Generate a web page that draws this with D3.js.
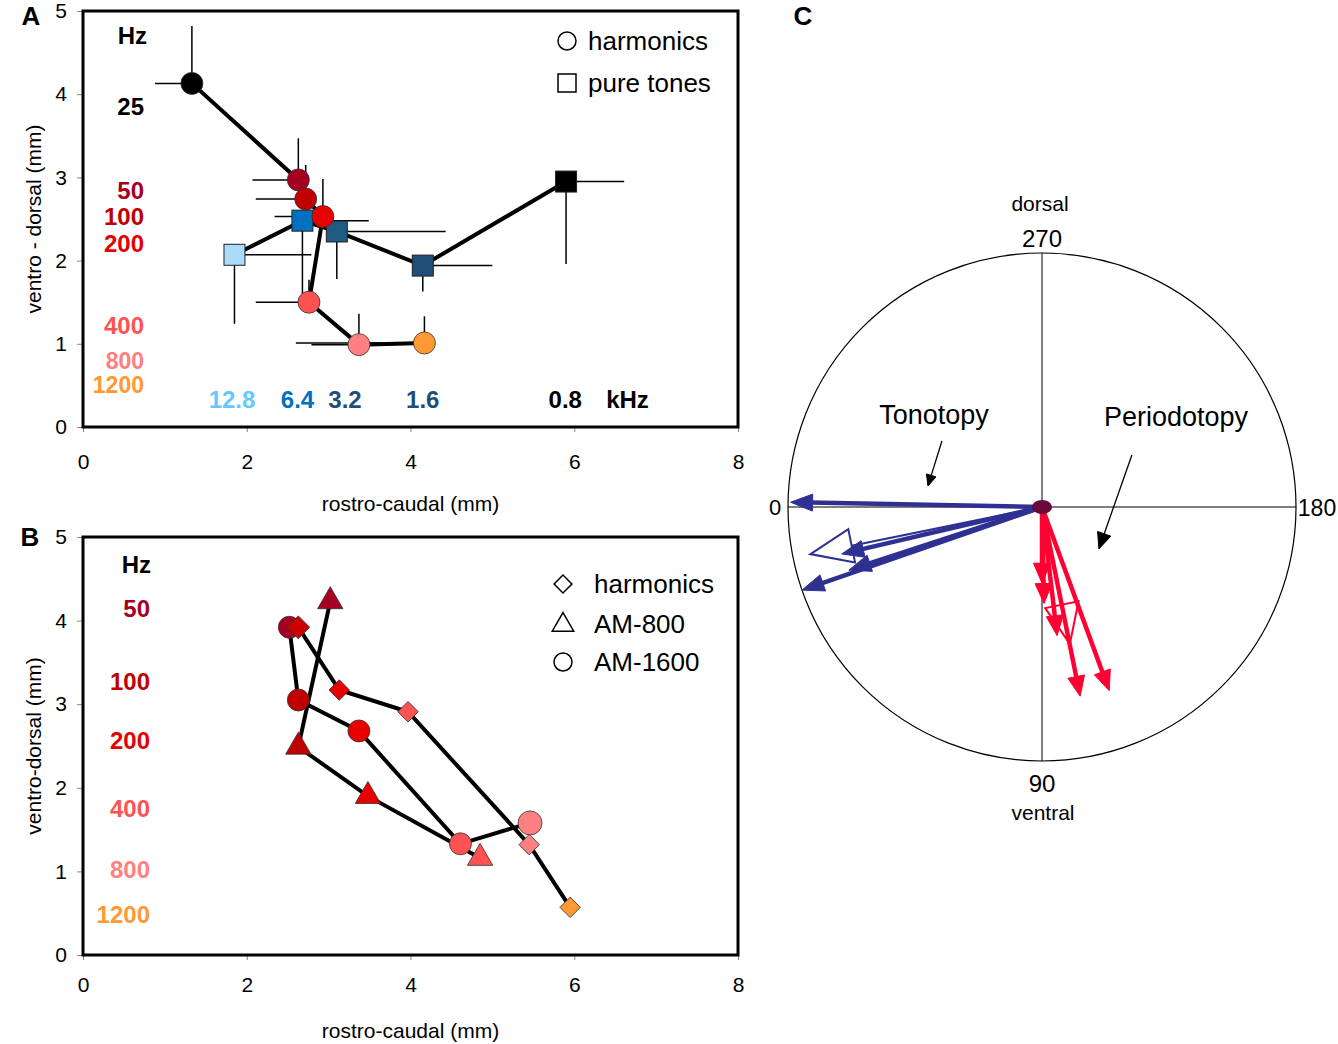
<!DOCTYPE html>
<html>
<head>
<meta charset="utf-8">
<script src="https://cdn.jsdelivr.net/npm/d3@7"></script>
<style>
  body { margin: 0; background: #fff; }
  svg { font-family: "Liberation Sans", Arial, sans-serif; }
</style>
</head>
<body>
<svg id="fig" width="1338" height="1044"></svg>
<script>
"use strict"

// ---- panel A : harmonics (circles) ----
const harmHz = ["25", "50", "100", "200", "400", "800", "1200"]
const harmColor = ["#000000", "#a50021", "#c00000", "#e60000", "#ff5252", "#ff8080", "#ff9933"]
const harmX = [1.33, 2.63, 2.72, 2.93, 2.76, 3.37, 4.17]
const harmY = [4.13, 2.97, 2.74, 2.53, 1.50, 0.99, 1.01]
const harmErrX = [-0.45, -0.56, -0.61, -0.59, -0.65, -0.58, -1.57]
const harmErrY = [0.69, 0.50, 0.41, 0.45, 0.27, 0.37, 0.32]
const harmLabelY = [3.85, 2.84, 2.53, 2.21, 1.22, 0.79, 0.50]

// ---- panel A : pure tones (squares) ----
const toneKHz = ["12.8", "6.4", "3.2", "1.6", "0.8"]
const toneColor = ["#a9dcf8", "#0070c0", "#215a82", "#1f4e79", "#000000"]
const toneTextColor = ["#66c8ff", "#0070c0", "#1f4e79", "#1f4e79", "#000000"]
const toneX = [1.85, 2.68, 3.10, 4.15, 5.90]
const toneY = [2.07, 2.48, 2.35, 1.94, 2.95]
const toneErrX = [0.94, 0.81, 1.33, 0.85, 0.71]
const toneErrY = [-0.83, -0.88, -0.57, -0.31, -0.99]
const toneLabelX = [1.82, 2.62, 3.20, 4.15, 5.89]

// ---- panel B ----
const bHz = ["50", "100", "200", "400", "800", "1200"]
const bHzColor = ["#a50021", "#c00000", "#e60000", "#ff5252", "#ff8080", "#ff9933"]
const bHzLabelY = [4.15, 3.27, 2.56, 1.75, 1.02, 0.49]

const diamondX = [2.63, 3.13, 3.97, 5.45, 5.95]
const diamondY = [3.92, 3.17, 2.91, 1.32, 0.57]
const diamondColor = ["#cc0000", "#e60000", "#ff5252", "#ff8080", "#ff9933"]

const triX = [3.02, 2.63, 3.48, 4.85]
const triY = [4.23, 2.49, 1.90, 1.16]
const triColor = ["#a50021", "#c00000", "#e60000", "#ff5252"]

const amCircX = [2.52, 2.63, 3.37, 4.61, 5.46]
const amCircY = [3.92, 3.05, 2.68, 1.33, 1.58]
const amCircColor = ["#a50021", "#c00000", "#e60000", "#ff5252", "#ff8080"]

// ---- panel C : gradient directions (deg: 0 rostral/left, 90 ventral) ----
const tonoAngle = [358.9, 11.5, 13.2, 18.1, 19.1]
const tonoLen = [0.99, 0.93, 0.81, 0.80, 1.00]
const tonoOpen = [false, true, false, false, false]
const perioAngle = [91.2, 90.0, 96.7, 101.5, 101.4, 110.1]
const perioLen = [0.38, 0.30, 0.51, 0.55, 0.76, 0.77]
const perioOpen = [false, false, false, true, false, false]

const svg = d3.select("#fig")

const x = d3.scaleLinear().domain([0, 8]).range([83, 738])
const yA = d3.scaleLinear().domain([0, 5]).range([427, 11])
const yB = d3.scaleLinear().domain([0, 5]).range([955, 537])

function frame(y, xpad) {
    let g = svg.append("g")
    g.append("g").attr("transform", `translate(${x(0)},0)`)
        .call(d3.axisLeft(y).ticks(5).tickSize(6).tickPadding(10))
        .call(a => a.select(".domain").remove())
        .call(a => a.selectAll("line").attr("stroke", "#888"))
        .call(a => a.selectAll("text").attr("font-size", 21).attr("fill", "#000"))
    g.append("g").attr("transform", `translate(0,${y(0)})`)
        .call(d3.axisBottom(x).ticks(4).tickSize(5).tickPadding(xpad))
        .call(a => a.select(".domain").remove())
        .call(a => a.selectAll("line").attr("stroke", "#888"))
        .call(a => a.selectAll("text").attr("font-size", 21).attr("fill", "#000"))
    g.append("rect")
        .attr("x", x(0)).attr("y", y(5))
        .attr("width", x(8) - x(0)).attr("height", y(0) - y(5))
        .attr("fill", "none").attr("stroke", "#000").attr("stroke-width", 3)
    return g
}

const line = (xs, ys, y) => d3.line()(xs.map((v, i) => [x(v), y(ys[i])]))

// ================= A =================
let gA = frame(yA, 22)
let eb = svg.append("g").attr("stroke", "#000").attr("stroke-width", 1.5)
function errorBars(xs, ys, ex, ey) {
    xs.forEach((v, i) => {
        eb.append("line").attr("x1", x(v)).attr("x2", x(v + ex[i]))
            .attr("y1", yA(ys[i])).attr("y2", yA(ys[i]))
        eb.append("line").attr("x1", x(v)).attr("x2", x(v))
            .attr("y1", yA(ys[i])).attr("y2", yA(ys[i] + ey[i]))
    })
}
errorBars(harmX, harmY, harmErrX, harmErrY)
errorBars(toneX, toneY, toneErrX, toneErrY)

svg.append("path").attr("d", line(harmX, harmY, yA))
    .attr("fill", "none").attr("stroke", "#000").attr("stroke-width", 4)
svg.append("path").attr("d", line(toneX, toneY, yA))
    .attr("fill", "none").attr("stroke", "#000").attr("stroke-width", 4)

svg.append("g").selectAll("rect").data(toneX).join("rect")
    .attr("x", d => x(d) - 10.5).attr("y", (d, i) => yA(toneY[i]) - 10.5)
    .attr("width", 21).attr("height", 21)
    .attr("fill", (d, i) => toneColor[i]).attr("stroke", "#222").attr("stroke-width", 1)
svg.append("g").selectAll("circle").data(harmX).join("circle")
    .attr("cx", d => x(d)).attr("cy", (d, i) => yA(harmY[i])).attr("r", 11)
    .attr("fill", (d, i) => harmColor[i]).attr("stroke", "#333").attr("stroke-width", 0.8)

// Hz labels
let labA = svg.append("g").attr("font-weight", "bold").attr("font-size", 24)
    .attr("text-anchor", "end").attr("dominant-baseline", "central")
labA.append("text").attr("x", 147).attr("y", yA(4.71)).text("Hz")
labA.selectAll(".hz").data(harmHz).join("text").attr("class", "hz")
    .attr("x", 144).attr("y", (d, i) => yA(harmLabelY[i]))
    .attr("font-size", (d, i) => i >= 5 ? 23 : 24)
    .attr("fill", (d, i) => harmColor[i]).text(d => d)
let labK = svg.append("g").attr("font-weight", "bold").attr("font-size", 24)
    .attr("text-anchor", "middle").attr("dominant-baseline", "central")
labK.selectAll("text").data(toneKHz).join("text")
    .attr("x", (d, i) => x(toneLabelX[i])).attr("y", yA(0.33))
    .attr("fill", (d, i) => toneTextColor[i]).text(d => d)
labK.append("text").attr("x", x(6.65)).attr("y", yA(0.33)).text("kHz")

// legend A
let legA = svg.append("g").attr("font-size", 26).attr("dominant-baseline", "central")
legA.append("circle").attr("cx", 567).attr("cy", 41).attr("r", 9)
    .attr("fill", "none").attr("stroke", "#000").attr("stroke-width", 1.5)
legA.append("text").attr("x", 588).attr("y", 41).text("harmonics")
legA.append("rect").attr("x", 558).attr("y", 74).attr("width", 18).attr("height", 18)
    .attr("fill", "none").attr("stroke", "#000").attr("stroke-width", 1.5)
legA.append("text").attr("x", 588).attr("y", 83).text("pure tones")

// ================= B =================
let gB = frame(yB, 17)
const lineB = (xs, ys) => svg.append("path").attr("d", line(xs, ys, yB))
    .attr("fill", "none").attr("stroke", "#000").attr("stroke-width", 4)
lineB(amCircX, amCircY)
lineB(triX, triY)
lineB(diamondX, diamondY)

svg.append("g").selectAll("circle").data(amCircX).join("circle")
    .attr("cx", d => x(d)).attr("cy", (d, i) => yB(amCircY[i])).attr("r", (d, i) => i == 4 ? 12 : 11)
    .attr("fill", (d, i) => amCircColor[i]).attr("stroke", "#333").attr("stroke-width", 0.8)
svg.append("g").selectAll("path").data(triX).join("path")
    .attr("d", d3.symbol(d3.symbolTriangle, 280))
    .attr("transform", (d, i) => `translate(${x(d)},${yB(triY[i])})`)
    .attr("fill", (d, i) => triColor[i]).attr("stroke", "#333").attr("stroke-width", 0.8)
svg.append("g").selectAll("path").data(diamondX).join("path")
    .attr("d", (d, i) => d3.symbol(d3.symbolSquare, i == 0 ? 260 : 210)())
    .attr("transform", (d, i) => `translate(${x(d)},${yB(diamondY[i])}) rotate(45)`)
    .attr("fill", (d, i) => diamondColor[i]).attr("stroke", "#333").attr("stroke-width", 0.8)

let labB = svg.append("g").attr("font-weight", "bold").attr("font-size", 24)
    .attr("text-anchor", "end").attr("dominant-baseline", "central")
labB.append("text").attr("x", 151).attr("y", yB(4.67)).text("Hz")
labB.selectAll(".hz").data(bHz).join("text").attr("class", "hz")
    .attr("x", 150).attr("y", (d, i) => yB(bHzLabelY[i]))
    .attr("fill", (d, i) => bHzColor[i]).text(d => d)

let legB = svg.append("g").attr("font-size", 26).attr("dominant-baseline", "central")
    .attr("fill", "none").attr("stroke-width", 1.5)
legB.append("path").attr("d", d3.symbol(d3.symbolSquare, 160)())
    .attr("transform", "translate(563,584) rotate(45)").attr("stroke", "#000")
legB.append("path").attr("d", d3.symbol(d3.symbolTriangle, 200)())
    .attr("transform", "translate(563,625)").attr("stroke", "#000")
legB.append("circle").attr("cx", 563).attr("cy", 662).attr("r", 9).attr("stroke", "#000")
legB.selectAll("text").data(["harmonics", "AM-800", "AM-1600"]).join("text")
    .attr("x", 594).attr("y", (d, i) => [584, 624, 662][i]).attr("fill", "#000").text(d => d)

// axis titles
let titles = svg.append("g").attr("font-size", 21).attr("text-anchor", "middle")
    .attr("dominant-baseline", "central")
titles.append("text").attr("x", x(4)).attr("y", 503).text("rostro-caudal (mm)")
titles.append("text").attr("x", x(4)).attr("y", 1030).text("rostro-caudal (mm)")
titles.append("text").attr("transform", `translate(33,${yA(2.5)}) rotate(-90)`).text("ventro - dorsal (mm)")
titles.append("text").attr("transform", `translate(33,${yB(2.5)}) rotate(-90)`).text("ventro-dorsal (mm)")

let letters = svg.append("g").attr("font-size", 26).attr("font-weight", "bold")
    .attr("text-anchor", "middle").attr("dominant-baseline", "central")
letters.append("text").attr("x", 31).attr("y", 16).text("A")
letters.append("text").attr("x", 30).attr("y", 537).text("B")
letters.append("text").attr("x", 803).attr("y", 16).text("C")

// ================= C =================
const cx = 1042, cy = 507
const r = d3.scaleLinear().domain([0, 1]).range([0, 254])
const pt = (deg, len) => {
    let a = deg * Math.PI / 180
    return [cx - r(len) * Math.cos(a), cy + r(len) * Math.sin(a)]
}
let gC = svg.append("g")
gC.append("circle").attr("cx", cx).attr("cy", cy).attr("r", r(1))
    .attr("fill", "none").attr("stroke", "#000").attr("stroke-width", 1.2)
gC.append("line").attr("x1", cx - r(1)).attr("x2", cx + r(1)).attr("y1", cy).attr("y2", cy)
    .attr("stroke", "#000").attr("stroke-width", 1)
gC.append("line").attr("x1", cx).attr("x2", cx).attr("y1", cy - r(1)).attr("y2", cy + r(1))
    .attr("stroke", "#000").attr("stroke-width", 1)

let cText = gC.append("g").attr("text-anchor", "middle").attr("dominant-baseline", "central")
cText.append("text").attr("x", cx - 2).attr("y", 203).attr("font-size", 21).text("dorsal")
cText.append("text").attr("x", cx).attr("y", 238).attr("font-size", 24).text("270")
cText.append("text").attr("x", 775).attr("y", 507).attr("font-size", 22).text("0")
cText.append("text").attr("x", 1317).attr("y", 508).attr("font-size", 23).text("180")
cText.append("text").attr("x", cx).attr("y", 783).attr("font-size", 24).text("90")
cText.append("text").attr("x", cx + 1).attr("y", 812).attr("font-size", 21).text("ventral")
cText.append("text").attr("x", 934).attr("y", 415).attr("font-size", 27).text("Tonotopy")
cText.append("text").attr("x", 1176).attr("y", 417).attr("font-size", 27).text("Periodotopy")

function arrow(g, p0, p1, color, width, headL, headW, open) {
    let dx = p1[0] - p0[0], dy = p1[1] - p0[1]
    let d = Math.hypot(dx, dy), ux = dx / d, uy = dy / d
    let bx = p1[0] - headL * ux, by = p1[1] - headL * uy
    g.append("line").attr("x1", p0[0]).attr("y1", p0[1])
        .attr("x2", open ? bx : bx + ux * 2).attr("y2", open ? by : by + uy * 2)
        .attr("stroke", color).attr("stroke-width", width)
    let head = [p1, [bx - headW * uy, by + headW * ux], [bx + headW * uy, by - headW * ux]]
    g.append("path").attr("d", "M" + head.join("L") + "Z")
        .attr("fill", open ? "none" : color).attr("stroke", color)
        .attr("stroke-width", open ? 2 : 1).attr("stroke-linejoin", "miter")
}

let arrowsG = gC.append("g")
tonoAngle.forEach((a, i) => {
    let open = tonoOpen[i]
    arrow(arrowsG, [cx, cy], pt(a, tonoLen[i]), "#2e3192", open ? 2 : 4.5,
        open ? 42 : 22, open ? 17 : 8.5, open)
})
perioAngle.forEach((a, i) => {
    let open = perioOpen[i]
    arrow(arrowsG, [cx, cy], pt(a, perioLen[i]), "#ff0033", open ? 2 : 4.5,
        open ? 40 : 20, open ? 17 : 8.5, open)
})
gC.append("ellipse").attr("cx", cx).attr("cy", cy).attr("rx", 10).attr("ry", 7)
    .attr("fill", "#6b0a3a")

// pointer arrows to the labels (in radius units relative to centre)
const rel = (u, v) => [cx + r(u), cy + r(v)]
arrow(gC, rel(-0.394, -0.26), rel(-0.449, -0.083), "#000", 1.3, 11, 5, false)
arrow(gC, rel(0.354, -0.205), rel(0.224, 0.165), "#000", 1.3, 16, 7, false)
</script>
</body>
</html>
